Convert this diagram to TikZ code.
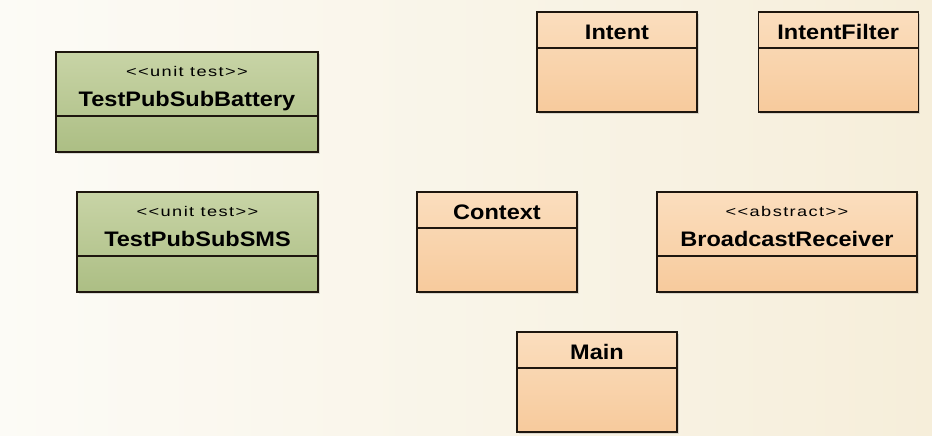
\documentclass[tikz,border=0pt]{standalone}
\usepackage{fontspec}
\setmainfont{Liberation Sans}
\newfontfamily\titlefont[FakeStretch=1.12]{Liberation Sans}
\newfontfamily\stereofont[FakeStretch=1.3,LetterSpace=10]{Liberation Sans}
\usepackage{tikz}
\usetikzlibrary{shadows, positioning}
\definecolor{bgleft}{RGB}{252,251,246}
\definecolor{bgright}{RGB}{246,238,218}
\definecolor{greentop}{RGB}{200,212,166}
\definecolor{greenbot}{RGB}{172,190,132}
\definecolor{orangetop}{RGB}{251,222,190}
\definecolor{orangebot}{RGB}{247,202,156}
\definecolor{umlline}{RGB}{30,22,14}
\newcommand{\stereo}[1]{{\stereofont\fontsize{14}{16}\selectfont\rule[-3pt]{0pt}{23pt}<<#1>>}}
\newcommand{\classname}[1]{{\titlefont\bfseries\fontsize{21}{24}\selectfont #1\rule[-5pt]{0pt}{0pt}}}
\newcommand{\plainname}[1]{{\titlefont\bfseries\fontsize{21}{24}\selectfont\rule{0pt}{20pt}#1}}
\tikzstyle{testclass} = [rectangle, minimum height=100pt, draw=umlline, line width=1.2pt, top color=greentop, bottom color=greenbot, drop shadow={shadow xshift=2pt, shadow yshift=-2pt, opacity=0.25}]
\tikzstyle{libclass} = [rectangle, minimum height=100pt, draw=umlline, line width=1.2pt, top color=orangetop, bottom color=orangebot, drop shadow={shadow xshift=2pt, shadow yshift=-2pt, opacity=0.25}]
\tikzstyle{header} = [rectangle, draw=umlline, line width=1.2pt, anchor=north, align=center, inner sep=0pt]

\begin{document}
\begin{tikzpicture}[x=1pt, y=-1pt]
    % Background
    \useasboundingbox (0,0) rectangle (932,436);
    \shade[left color=bgleft, right color=bgright] (0,0) rectangle (932,436);

    % Unit tests
    \node[testclass, minimum width=262pt] (battery) at (187,102) {};
    \node[header, minimum width=262pt, minimum height=64pt] (batteryhead) at (battery.north) {\stereo{unit test}\\[10pt]\classname{TestPubSubBattery}};
    \node[testclass, minimum width=241pt] (sms) at (197.5,242) {};
    \node[header, minimum width=241pt, minimum height=64pt] (smshead) at (sms.north) {\stereo{unit test}\\[10pt]\classname{TestPubSubSMS}};

    % Android classes
    \node[libclass, minimum width=160pt] (intent) at (617,62) {};
    \node[header, minimum width=160pt, minimum height=36pt] (intenthead) at (intent.north) {\plainname{Intent}};
    \node[libclass, minimum width=160pt, right=60pt of intent] (filter) {};
    \node[header, minimum width=160pt, minimum height=36pt] (filterhead) at (filter.north) {\plainname{IntentFilter}};
    \node[libclass, minimum width=160pt] (context) at (497,242) {};
    \node[header, minimum width=160pt, minimum height=36pt] (contexthead) at (context.north) {\plainname{Context}};
    \node[libclass, minimum width=260pt] (receiver) at (787,242) {};
    \node[header, minimum width=260pt, minimum height=64pt] (receiverhead) at (receiver.north) {\stereo{abstract}\\[10pt]\classname{BroadcastReceiver}};

    % Application
    \node[libclass, minimum width=160pt] (main) at (597,382) {};
    \node[header, minimum width=160pt, minimum height=36pt] (mainhead) at (main.north) {\plainname{Main}};
\end{tikzpicture}
\end{document}
